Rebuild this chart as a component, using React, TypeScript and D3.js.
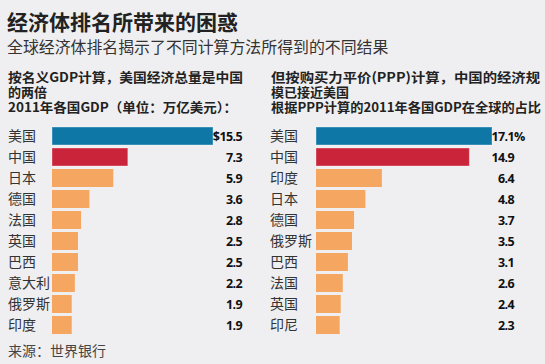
import React from "react";
import * as d3 from "d3";

const W = 545;
const H = 364;

const title = "经济体排名所带来的困惑";
const subtitle = "全球经济体排名揭示了不同计算方法所得到的不同结果";
const leftHeading = ["按名义GDP计算，美国经济总量是中国", "的两倍", "2011年各国GDP（单位：万亿美元）："];
const rightHeading = ["但按购买力平价(PPP)计算，中国的经济规", "模已接近美国", "根据PPP计算的2011年各国GDP在全球的占比"];
const source = "来源：世界银行";

const leftCountries = ["美国", "中国", "日本", "德国", "法国", "英国", "巴西", "意大利", "俄罗斯", "印度"];
const leftValues = [15.5, 7.3, 5.9, 3.6, 2.8, 2.5, 2.5, 2.2, 1.9, 1.9];
const leftLabels = ["$15.5", "7.3", "5.9", "3.6", "2.8", "2.5", "2.5", "2.2", "1.9", "1.9"];

const rightCountries = ["美国", "中国", "印度", "日本", "德国", "俄罗斯", "巴西", "法国", "英国", "印尼"];
const rightValues = [17.1, 14.9, 6.4, 4.8, 3.7, 3.5, 3.1, 2.6, 2.4, 2.3];
const rightLabels = ["17.1", "14.9", "6.4", "4.8", "3.7", "3.5", "3.1", "2.6", "2.4", "2.3"];

const BLUE = "#0f77a6";
const RED = "#c9243a";
const ORANGE = "#f5a660";
const CJK = "'Noto Sans CJK SC', 'Noto Sans', sans-serif";
const NUM = "'Open Sans', 'Noto Sans', sans-serif";

function colorFor(i: number) {
  return i === 0 ? BLUE : i === 1 ? RED : ORANGE;
}

function Panel(props: {
  countries: string[];
  values: number[];
  labels: string[];
  labelX: number;
  x0: number;
  x1: number;
  maxV: number;
  valueX: number;
  pct?: boolean;
}) {
  const { countries, values, labels, labelX, x0, x1, maxV, valueX, pct } = props;
  const y = d3
    .scaleBand<number>()
    .domain(d3.range(countries.length))
    .range([125.5, 335.5])
    .paddingInner(0.143)
    .paddingOuter(0.0715);
  const x = d3.scaleLinear().domain([0, maxV]).range([x0, x1]);
  return (
    <g>
      {countries.map((c, i) => {
        const top = y(i)!;
        const cy = top + y.bandwidth() / 2;
        return (
          <g key={i}>
            <text
              x={labelX}
              y={cy}
              dy="0.36em"
              fontFamily={CJK}
              fontSize={14}
              fill="#333"
            >
              {c}
            </text>
            <rect
              x={x(0)}
              y={top}
              width={x(values[i]) - x(0)}
              height={y.bandwidth()}
              fill={colorFor(i)}
              stroke={i < 2 ? "rgba(255,255,255,0.35)" : "none"}
              strokeWidth={1}
            />
            <text
              x={valueX}
              y={cy}
              dy="0.36em"
              textAnchor="end"
              fontFamily={NUM}
              fontWeight={700}
              fontSize={12.5}
              letterSpacing={-0.6}
              fill="#111"
            >
              {labels[i]}
            </text>
            {pct && i === 0 ? (
              <text
                x={valueX}
                y={cy}
                dy="0.36em"
                fontFamily={NUM}
                fontWeight={700}
                fontSize={12.5}
                fill="#111"
              >
                %
              </text>
            ) : null}
          </g>
        );
      })}
    </g>
  );
}

const leftLens = [235, 0, 229];
const rightLens = [269, 0, 270];

export default function App() {
  return (
    <svg
      width={W}
      height={H}
      style={{ position: "absolute", left: 0, top: 0, display: "block" }}
    >
      <rect x={0} y={0} width={W} height={H} fill="#efeff1" />
      <text x={7} y={30} fontFamily={CJK} fontSize={21} fontWeight={700} fill="#222">
        {title}
      </text>
      <text x={7} y={53} fontFamily={CJK} fontSize={15.9} fill="#333">
        {subtitle}
      </text>
      {leftHeading.map((t, i) => (
        <text
          key={"l" + i}
          x={8}
          y={81.5 + i * 15}
          fontFamily={CJK}
          fontSize={13}
          fontWeight={700}
          fill="#222"
          textLength={leftLens[i] || undefined}
          lengthAdjust={leftLens[i] ? "spacingAndGlyphs" : undefined}
        >
          {t}
        </text>
      ))}
      {rightHeading.map((t, i) => (
        <text
          key={"r" + i}
          x={271}
          y={81.5 + i * 15}
          fontFamily={CJK}
          fontSize={13}
          fontWeight={700}
          fill="#222"
          textLength={rightLens[i] || undefined}
          lengthAdjust={rightLens[i] ? "spacingAndGlyphs" : undefined}
        >
          {t}
        </text>
      ))}
      <Panel
        countries={leftCountries}
        values={leftValues}
        labels={leftLabels}
        labelX={8}
        x0={52}
        x1={213}
        maxV={15.5}
        valueX={242}
      />
      <Panel
        countries={rightCountries}
        values={rightValues}
        labels={rightLabels}
        labelX={270}
        x0={316}
        x1={492}
        maxV={17.1}
        valueX={514}
        pct
      />
      <text x={8} y={356} fontFamily={CJK} fontSize={14} fill="#444">
        {source}
      </text>
    </svg>
  );
}
